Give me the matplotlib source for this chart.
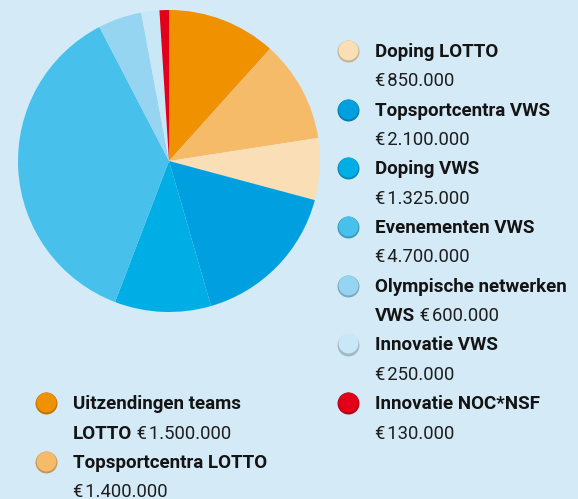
import matplotlib.pyplot as plt
import matplotlib.colors as mcolors
import numpy as np

# budget items, clockwise from 12 o'clock
labels = ["Uitzendingen teams\nLOTTO", "Topsportcentra LOTTO", "Doping LOTTO",
          "Topsportcentra VWS", "Doping VWS", "Evenementen VWS",
          "Olympische netwerken\nVWS", "Innovatie VWS", "Innovatie NOC*NSF"]
amounts = [1500000, 1400000, 850000, 2100000, 1325000, 4700000, 600000, 250000, 130000]
colors = ["#f09100", "#f6bb69", "#f9deb6", "#009fdf", "#00aee6",
          "#47c0eb", "#95d5f2", "#c8e8f8", "#e2001a"]

# legend order: left column then right column
left_items = [0, 1]
right_items = [2, 3, 4, 5, 6, 7, 8]

W, H = 578, 499
bg = "#d4eaf7"
plt.rcParams['font.family'] = ['Roboto', 'DejaVu Sans']

fig = plt.figure(figsize=(W / 100, H / 100), dpi=100, facecolor=bg)

# pie: center (169,161), radius 151 px
cx, cy, r = 169, 161, 151
ax = fig.add_axes([(cx - r) / W, (H - cy - r) / H, 2 * r / W, 2 * r / H])
ax.set_facecolor(bg)
ax.pie(amounts, colors=colors, startangle=90, counterclock=False, radius=1,
       wedgeprops=dict(linewidth=0))
ax.set_xlim(-1, 1)
ax.set_ylim(-1, 1)
ax.set_aspect('equal')
ax.axis('off')

# overlay axes in pixel coords for the legend
lax = fig.add_axes([0, 0, 1, 1])
lax.set_xlim(0, W)
lax.set_ylim(H, 0)
lax.axis('off')
lax.patch.set_alpha(0)


def fmt(v):
    return "€\u200a" + f"{v:,}".replace(",", ".")


def marker(x, y, c):
    dark = np.array(mcolors.to_rgb(c)) * 0.8
    lax.scatter([x], [y], s=250, color=dark, linewidths=0, zorder=3)
    lax.scatter([x], [y - 1.2], s=205, color=c, linewidths=0, zorder=4)


def draw_column(items, x_mark, x_text, y0, step=29.35):
    row = 0
    for i in items:
        base = y0 + row * step
        marker(x_mark, base - 6, colors[i])
        parts = labels[i].split("\n")
        for j, p in enumerate(parts):
            t = lax.text(x_text, base + j * step, p, fontsize=13.5, fontweight='bold',
                         color="#141414", va='baseline', ha='left')
        if len(parts) > 1:
            lax.annotate(" " + fmt(amounts[i]), xy=(1, 0), xycoords=t,
                         fontsize=13.3, color="#1e1e1e", va='bottom', ha='left')
            row += len(parts)
        else:
            lax.text(x_text, base + step, fmt(amounts[i]), fontsize=13.3,
                     color="#1e1e1e", va='baseline', ha='left')
            row += 2


draw_column(right_items, 348, 375, 57)
draw_column(left_items, 46, 73, 57 + 12 * 29.35)

fig.savefig("out.png", dpi=100, facecolor=bg)
